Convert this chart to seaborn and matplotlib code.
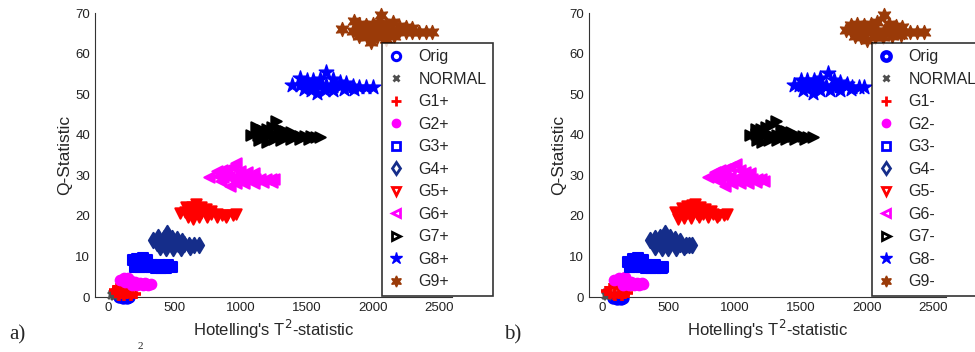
import numpy as np
import pandas as pd
import matplotlib
matplotlib.use("Agg")
import matplotlib.pyplot as plt
import seaborn as sns
from matplotlib.lines import Line2D

# ==========================================
# data (T2, Q) per group
# ==========================================
# --- panel a) ---
ORIG_A = [(80, 0.0), (110, -0.3), (140, -0.2), (160, 0.1), (100, 0.2)]
NORMAL_A = [(20, 0.5), (30, 1.0), (45, 1.3), (40, 0.3), (60, 0.8)]
G1_A = [(40, 1.8), (70, 2.3), (100, 2.2), (130, 1.8), (160, 1.4), (60, 1.0), (100, 0.8),
        (140, 0.8), (180, 0.8), (210, 0.8), (80, 0.3), (120, 0.3), (170, 0.3)]
G2_A = [(90, 4.2), (120, 4.8), (150, 4.8), (130, 3.8), (170, 3.9), (200, 3.6), (240, 3.4),
        (280, 3.4), (320, 3.3), (180, 3.0), (220, 2.9), (260, 2.9), (300, 3.0)]
G3_A = [(190, 9.0), (220, 9.3), (260, 9.5), (290, 9.2), (210, 8.2), (250, 8.2), (290, 8.3),
        (200, 7.5), (240, 7.4), (280, 7.3), (320, 7.3), (360, 7.2), (400, 7.2), (440, 7.2),
        (480, 7.3), (330, 7.9), (390, 7.9), (450, 7.9)]
G4_A = [(340, 14.0), (380, 14.8), (420, 14.6), (442, 15.8), (480, 14.5), (520, 14.2), (560, 13.8),
        (370, 13.3), (410, 13.2), (450, 13.3), (490, 13.2), (530, 13.0), (570, 13.0), (610, 12.9),
        (650, 12.9), (690, 12.8), (390, 12.4), (440, 12.2), (490, 12.2), (550, 12.2), (620, 12.3)]
G5_A = [(540, 20.7), (590, 22.3), (630, 22.3), (667, 23.0), (700, 22.3), (740, 21.6), (780, 21.3),
        (580, 20.9), (620, 20.8), (660, 20.6), (700, 20.6), (740, 20.5), (780, 20.4), (820, 20.4),
        (860, 20.3), (900, 20.3), (940, 20.3), (967, 20.5), (600, 19.8), (640, 19.2), (690, 19.7),
        (750, 19.7), (820, 19.6), (890, 19.6)]
G6_A = [(765, 29.6), (820, 31.0), (860, 31.3), (900, 31.5), (940, 32.0), (967, 33.0), (1000, 31.0),
        (1050, 30.8), (1100, 30.5), (830, 29.8), (870, 29.7), (910, 29.5), (950, 29.6), (990, 29.5),
        (1030, 29.3), (1070, 29.3), (1110, 29.2), (1150, 29.1), (1190, 29.0), (1230, 29.0),
        (1252, 29.0), (850, 28.5), (920, 27.3), (970, 28.2), (1030, 28.2), (1100, 28.2),
        (1170, 28.3), (1240, 28.3)]
G7_A = [(1080, 40.0), (1120, 41.8), (1160, 41.2), (1200, 41.5), (1240, 42.0), (1267, 43.3),
        (1300, 41.5), (1340, 41.0), (1380, 40.7), (1130, 40.0), (1170, 40.1), (1210, 40.0),
        (1250, 40.2), (1290, 40.0), (1330, 39.9), (1370, 39.9), (1410, 39.8), (1450, 39.8),
        (1490, 39.7), (1530, 39.6), (1570, 39.5), (1605, 39.5), (1140, 38.8), (1200, 38.2),
        (1250, 38.9), (1310, 38.8), (1380, 38.9), (1450, 38.9), (1520, 38.9)]
G8_A = [(1390, 52.3), (1450, 54.0), (1500, 53.6), (1550, 53.4), (1600, 53.8), (1650, 55.5),
        (1700, 53.8), (1750, 53.0), (1800, 52.8), (1450, 52.3), (1500, 52.2), (1550, 52.0),
        (1600, 52.3), (1650, 52.2), (1700, 52.1), (1750, 52.0), (1800, 51.9), (1850, 52.0),
        (1900, 51.8), (1950, 51.8), (2000, 51.7), (1480, 51.2), (1530, 51.0), (1580, 50.3),
        (1640, 51.0), (1700, 51.0), (1780, 51.2), (1860, 51.3)]
G9_A = [(1770, 66.0), (1860, 68.0), (1900, 67.2), (1950, 67.0), (2000, 67.3), (2040, 67.5),
        (2063, 69.5), (2100, 67.2), (2150, 67.8), (2200, 66.8), (2250, 66.5), (2300, 66.3),
        (1850, 65.5), (1900, 65.5), (1950, 65.3), (2000, 65.6), (2050, 65.4), (2100, 65.5),
        (2150, 65.3), (2200, 65.5), (2250, 65.4), (2300, 65.2), (2350, 65.4), (2400, 65.3),
        (2450, 65.3), (1900, 64.3), (1960, 64.0), (2030, 64.2), (2100, 63.7), (2160, 64.3),
        (1990, 62.9)]

# --- panel b) ---
ORIG_B = [(80, -0.3), (110, -0.6), (140, -0.5), (160, -0.2), (100, 0.1), (130, 0.0)]
NORMAL_B = [(20, 0.5), (30, 1.2), (45, 0.8), (35, 0.2)]
G1_B = [(30, 1.5), (60, 2.2), (100, 2.8), (130, 2.3), (160, 1.8), (60, 0.8), (90, 0.6),
        (130, 0.8), (170, 0.8), (197, 1.0), (100, 0.2), (150, 0.3)]
G2_B = [(91, 4.2), (130, 4.8), (174, 5.0), (150, 3.8), (190, 3.9), (220, 3.6), (260, 3.4),
        (300, 3.4), (311, 3.3), (160, 3.0), (200, 2.9), (240, 2.9), (280, 3.0)]
G3_B = [(197, 8.6), (230, 9.3), (270, 9.5), (310, 9.2), (220, 8.3), (260, 8.3), (300, 8.3),
        (210, 7.4), (250, 7.3), (290, 7.3), (330, 7.2), (370, 7.2), (410, 7.2), (450, 7.2),
        (462, 7.3), (340, 7.9), (400, 7.9)]
G4_B = [(364, 14.0), (400, 14.6), (440, 14.8), (477, 15.8), (510, 14.8), (550, 14.3), (590, 13.8),
        (390, 13.2), (430, 13.3), (470, 13.3), (510, 13.2), (550, 13.0), (590, 13.0), (630, 12.9),
        (660, 12.9), (682, 12.8), (400, 12.3), (450, 12.2), (500, 12.1), (560, 12.2), (620, 12.3)]
G5_B = [(553, 21.0), (600, 22.0), (640, 22.4), (680, 22.6), (705, 23.0), (740, 22.3), (780, 21.6),
        (820, 21.2), (600, 20.8), (640, 20.6), (680, 20.6), (720, 20.5), (760, 20.5), (800, 20.4),
        (840, 20.4), (880, 20.3), (920, 20.3), (947, 20.5), (576, 19.3), (620, 19.5), (670, 19.4),
        (730, 19.6), (800, 19.6), (870, 19.6)]
G6_B = [(803, 29.6), (850, 30.8), (890, 31.2), (930, 31.5), (970, 32.0), (1008, 32.8),
        (1040, 31.2), (1080, 30.8), (1120, 30.5), (850, 29.7), (890, 29.6), (930, 29.5),
        (970, 29.5), (1010, 29.4), (1050, 29.3), (1090, 29.2), (1130, 29.1), (1170, 29.0),
        (1200, 29.0), (1220, 28.6), (880, 28.5), (932, 27.3), (980, 28.0), (1040, 28.2),
        (1100, 28.2), (1160, 28.3)]
G7_B = [(1121, 40.0), (1160, 41.5), (1200, 41.4), (1240, 41.8), (1280, 42.5), (1311, 43.3),
        (1350, 41.5), (1390, 41.0), (1430, 40.6), (1160, 40.1), (1200, 40.0), (1240, 40.1),
        (1280, 40.0), (1320, 40.0), (1360, 39.9), (1400, 39.8), (1440, 39.8), (1480, 39.7),
        (1520, 39.6), (1560, 39.5), (1591, 39.5), (1170, 38.7), (1212, 38.2), (1260, 38.8),
        (1320, 38.8), (1390, 38.9), (1460, 38.9), (1530, 39.0)]
G8_B = [(1447, 52.2), (1500, 53.4), (1550, 53.6), (1600, 53.4), (1650, 54.0), (1705, 55.3),
        (1750, 53.6), (1800, 53.0), (1850, 52.6), (1490, 52.3), (1540, 52.1), (1590, 52.0),
        (1640, 52.2), (1690, 52.1), (1740, 52.0), (1790, 51.9), (1840, 51.9), (1890, 51.8),
        (1940, 51.8), (1977, 51.7), (1520, 51.1), (1591, 50.4), (1650, 51.0), (1720, 51.0),
        (1800, 51.1), (1880, 51.2)]
G9_B = [(1841, 65.8), (1880, 67.0), (1930, 67.3), (1980, 67.0), (2030, 67.4), (2080, 67.8),
        (2129, 69.5), (2170, 67.2), (2220, 66.8), (2270, 66.5), (1880, 65.5), (1930, 65.6),
        (1980, 65.4), (2030, 65.5), (2080, 65.6), (2130, 65.5), (2180, 65.4), (2230, 65.4),
        (2280, 65.3), (2330, 65.4), (2380, 65.3), (2432, 65.3), (1910, 64.3), (1960, 64.0),
        (2000, 63.3), (2060, 64.2), (2120, 64.0), (2190, 64.4), (2260, 64.5)]

GROUPS = ['Orig', 'NORMAL', 'G1', 'G2', 'G3', 'G4', 'G5', 'G6', 'G7', 'G8', 'G9']
PANEL_A = [ORIG_A, NORMAL_A, G1_A, G2_A, G3_A, G4_A, G5_A, G6_A, G7_A, G8_A, G9_A]
PANEL_B = [ORIG_B, NORMAL_B, G1_B, G2_B, G3_B, G4_B, G5_B, G6_B, G7_B, G8_B, G9_B]
X_TICKS = [0, 500, 1000, 1500, 2000, 2500]
Y_TICKS = [0, 10, 20, 30, 40, 50, 60, 70]

# ==========================================
# style per group: marker, colour, size, open in legend?
# (the clouds are so dense in the original that they read as solid blobs)
# ==========================================
STYLE = {
    'Orig':   dict(marker='o', color='#0000ff', s=55, open=True, lw=1.5),
    'NORMAL': dict(marker='x', color='#505050', s=25, open=False, lw=2.0),
    'G1':     dict(marker='+', color='#ff0000', s=60, open=False, lw=2.6),
    'G2':     dict(marker='o', color='#ff00ff', s=55, open=False, lw=1.0),
    'G3':     dict(marker='s', color='#0000ff', s=45, open=True, lw=1.5),
    'G4':     dict(marker='d', color='#152d8a', s=60, open=True, lw=1.5),
    'G5':     dict(marker='v', color='#ff0000', s=55, open=True, lw=1.5),
    'G6':     dict(marker='<', color='#ff00ff', s=55, open=True, lw=1.5),
    'G7':     dict(marker='>', color='#000000', s=55, open=True, lw=1.5),
    'G8':     dict(marker='*', color='#0000ff', s=120, open=False, lw=1.0),
    'G9':     dict(marker=(6, 1, 0), color='#9a3a08', s=100, open=False, lw=1.0),
}

sns.set_style('white')
plt.rcParams['font.family'] = ['Liberation Sans', 'DejaVu Sans']

fig = plt.figure(figsize=(9.75, 3.52), dpi=100)
W, H = 975.0, 352.0


def make_df(panel):
    rows = []
    for g, pts in zip(GROUPS, panel):
        for t2, q in pts:
            rows.append((g, t2, q))
    return pd.DataFrame(rows, columns=['group', 'T2', 'Q'])


def draw_panel(left_px, df, sign, legend_x_px, tag, tag_x_px, orig_lw):
    ax = fig.add_axes([left_px / W, (H - 297) / H, 357 / W, (297 - 13) / H])
    for g in GROUPS:
        st = STYLE[g]
        sub = df[df['group'] == g]
        sns.scatterplot(data=sub, x='T2', y='Q', ax=ax, marker=st['marker'], s=st['s'],
                        color=st['color'], edgecolor=st['color'], facecolors=st['color'],
                        linewidth=st['lw'], legend=False, clip_on=False, zorder=3)
    ax.set_xlim(-100, 2600)
    ax.set_ylim(0, 70)
    ax.set_xticks(X_TICKS)
    ax.set_yticks(Y_TICKS)
    ax.tick_params(direction='in', length=3, width=0.8, labelsize=9.5, colors='#222222')
    for side in ['top', 'right']:
        ax.spines[side].set_visible(False)
    for side in ['left', 'bottom']:
        ax.spines[side].set_color('#333333')
        ax.spines[side].set_linewidth(0.8)
    ax.set_xlabel("Hotelling's T$^2$-statistic", fontsize=12, labelpad=3)
    ax.set_ylabel('Q-Statistic', fontsize=12.5, labelpad=2)

    # legend with small open markers like the MATLAB one
    handles = []
    labels = []
    for g in GROUPS:
        st = STYLE[g]
        ms = {'NORMAL': 4, 'G8': 9, 'G9': 8, 'G1': 7}.get(g, 6)
        mew = 2.0 if st['open'] or g in ('NORMAL', 'G1') else 1.0
        if g == 'Orig':
            mew = orig_lw
        handles.append(Line2D([], [], linestyle='none', marker=st['marker'], markersize=ms,
                              markeredgewidth=mew, color=st['color'],
                              markerfacecolor='none' if st['open'] else st['color']))
        labels.append(g if g in ('Orig', 'NORMAL') else g + sign)
    leg = ax.legend(handles, labels, loc='upper left',
                    bbox_to_anchor=(legend_x_px / W, 1 - 43 / H),
                    bbox_transform=fig.transFigure, borderaxespad=0, frameon=True,
                    fancybox=False, edgecolor='black', fontsize=11.5, labelspacing=0.47,
                    handlelength=1.0, handletextpad=0.9, borderpad=0.4)
    leg.get_frame().set_linewidth(1.2)
    leg.set_zorder(5)

    fig.text(tag_x_px / W, 1 - 335 / H, tag, fontsize=15, family='Liberation Serif',
             ha='left', va='center')
    return ax


draw_panel(95, make_df(PANEL_A), '+', 382, 'a)', 9, 2.2)
draw_panel(589, make_df(PANEL_B), '-', 872, 'b)', 504, 3.2)

# superscript left over from the caption underneath
fig.text(140 / W, 1 / H, '2', fontsize=8, family='Liberation Serif',
         ha='center', va='bottom')

fig.savefig('out.png', dpi=100)
